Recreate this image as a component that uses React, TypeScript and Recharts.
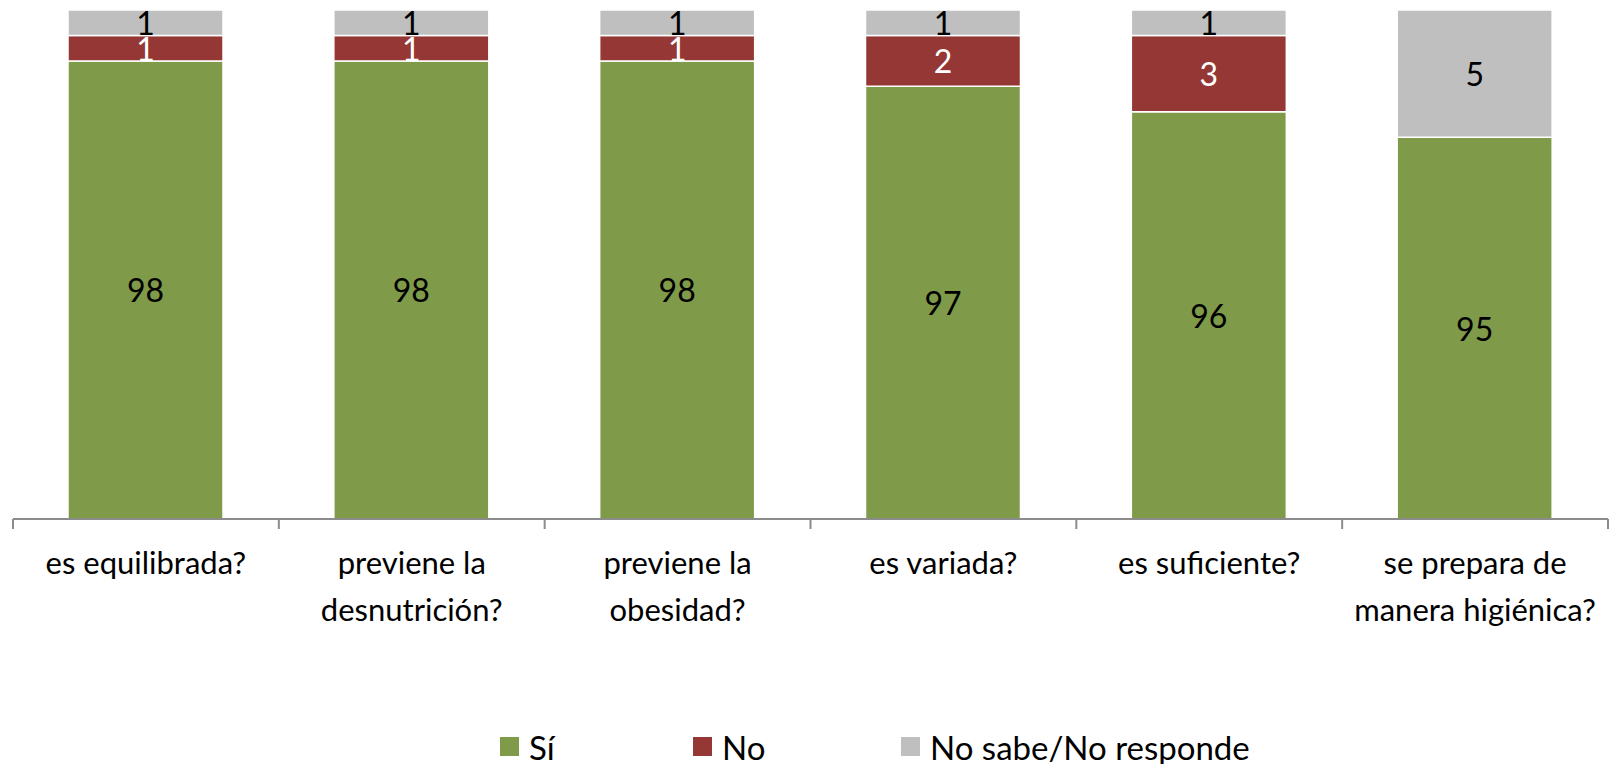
import React from 'react';
import { BarChart, Bar, XAxis, YAxis, Legend, LabelList } from 'recharts';

const categories = [
  'es equilibrada?',
  'previene la\ndesnutrición?',
  'previene la\nobesidad?',
  'es variada?',
  'es suficiente?',
  'se prepara de\nmanera higiénica?',
];
const siValues = [98, 98, 98, 97, 96, 95];
const noValues = [1, 1, 1, 2, 3, 0];
const nsnrValues = [1, 1, 1, 1, 1, 5];
const seriesNames = ['Sí', 'No', 'No sabe/No responde'];
const yDomain: [number, number] = [80, 100];

const COLORS = ['#7F9A48', '#953735', '#BFBFBF'];
const LABEL_COLORS = ['#000000', '#FFFFFF', '#000000'];
const FONT = 'Lato, "Open Sans", sans-serif';

const W = 1616;
const H = 764;
const MARGIN = { top: 10, right: 8, left: 13, bottom: 0 };
const LEGEND_H = 45;
const XAXIS_H = 200;
const PLOT_BOTTOM = H - MARGIN.bottom - LEGEND_H - XAXIS_H; // 519
const BAND = (W - MARGIN.left - MARGIN.right) / categories.length;

const data = categories.map((c, i) => ({
  name: c,
  si: siValues[i],
  no: noValues[i],
  nsnr: nsnrValues[i],
}));

const makeLabel = (color: string) => (props: any) => {
  const { x, y, width, height, value } = props;
  if (!value) return null;
  const top = Number(y);
  const bottom = Math.min(top + Number(height), PLOT_BOTTOM);
  const cy = (top + bottom) / 2;
  return (
    <text
      x={Number(x) + Number(width) / 2}
      y={cy}
      textAnchor="middle"
      dominantBaseline="central"
      fill={color}
      fontFamily={FONT}
      fontSize={32}
    >
      {value}
    </text>
  );
};

const CategoryTick = (props: any) => {
  const { x, payload, index } = props;
  const lines = String(payload.value).split('\n');
  const left = x - BAND / 2;
  const right = x + BAND / 2;
  return (
    <g>
      <line x1={left} x2={left} y1={PLOT_BOTTOM} y2={PLOT_BOTTOM + 10} stroke="#8C8C8C" strokeWidth={2} />
      {index === categories.length - 1 && (
        <line x1={right} x2={right} y1={PLOT_BOTTOM} y2={PLOT_BOTTOM + 10} stroke="#8C8C8C" strokeWidth={2} />
      )}
      {lines.map((ln, i) => (
        <text
          key={i}
          x={x}
          y={PLOT_BOTTOM + 55 + i * 47}
          textAnchor="middle"
          fill="#000"
          fontFamily={FONT}
          fontSize={31}
        >
          {ln}
        </text>
      ))}
    </g>
  );
};

const LEGEND_WIDTHS = [193, 208, 400];

const CustomLegend = () => (
  <div
    style={{
      width: W,
      height: LEGEND_H,
      display: 'flex',
      alignItems: 'center',
      paddingLeft: 500,
      paddingTop: 10,
      boxSizing: 'border-box',
      fontFamily: FONT,
      fontSize: 33,
      color: '#000',
    }}
  >
    {seriesNames.map((n, i) => (
      <div key={n} style={{ width: LEGEND_WIDTHS[i], height: 28, display: 'flex', alignItems: 'center' }}>
        <span style={{ width: 19, height: 19, background: COLORS[i], display: 'inline-block', marginRight: 10, flexShrink: 0 }} />
        <span style={{ lineHeight: '28px', whiteSpace: 'nowrap' }}>{n}</span>
      </div>
    ))}
  </div>
);

export default function App() {
  return (
    <div style={{ position: 'absolute', left: 0, top: 0, width: W, height: H, background: '#fff' }}>
      <BarChart width={W} height={H} data={data} margin={MARGIN} barSize={155}>
        <YAxis hide domain={yDomain} allowDataOverflow type="number" />
        <XAxis
          dataKey="name"
          height={XAXIS_H}
          axisLine={{ stroke: '#8C8C8C', strokeWidth: 2 }}
          tickLine={false}
          interval={0}
          tick={<CategoryTick />}
        />
        <Legend verticalAlign="bottom" wrapperStyle={{ left: 0, width: W }} content={<CustomLegend />} />
        <Bar dataKey="si" name={seriesNames[0]} stackId="a" fill={COLORS[0]} stroke="#fff" strokeWidth={1.5} isAnimationActive={false}>
          <LabelList dataKey="si" content={makeLabel(LABEL_COLORS[0])} />
        </Bar>
        <Bar dataKey="no" name={seriesNames[1]} stackId="a" fill={COLORS[1]} stroke="#fff" strokeWidth={1.5} isAnimationActive={false}>
          <LabelList dataKey="no" content={makeLabel(LABEL_COLORS[1])} />
        </Bar>
        <Bar dataKey="nsnr" name={seriesNames[2]} stackId="a" fill={COLORS[2]} stroke="#fff" strokeWidth={1.5} isAnimationActive={false}>
          <LabelList dataKey="nsnr" content={makeLabel(LABEL_COLORS[2])} />
        </Bar>
      </BarChart>
    </div>
  );
}
